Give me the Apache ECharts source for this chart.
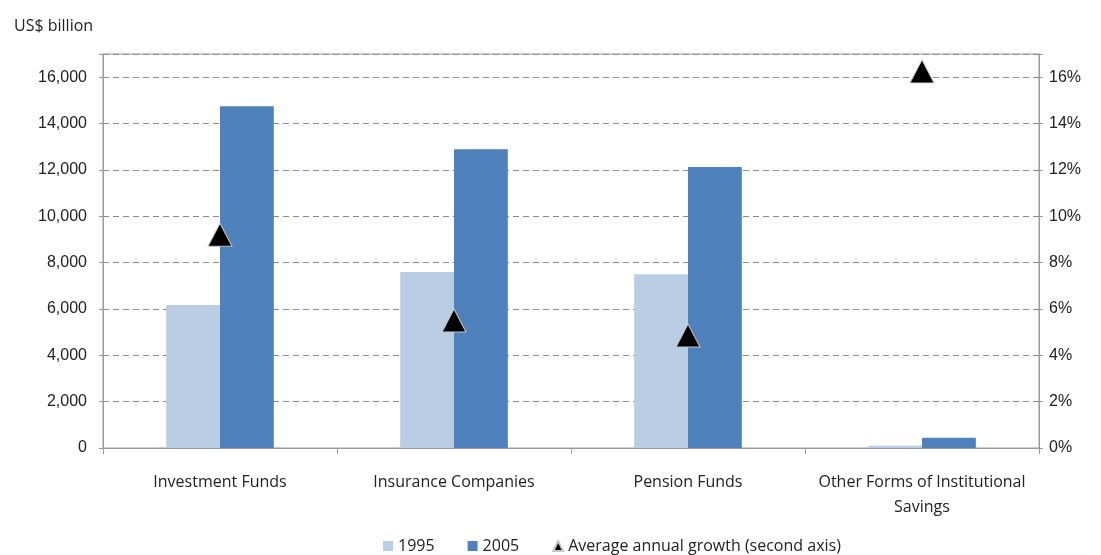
<!DOCTYPE html>
<html>
<head>
<meta charset="utf-8">
<script src="https://cdn.jsdelivr.net/npm/echarts@6/dist/echarts.min.js"></script>
<style>
  html, body { margin: 0; padding: 0; background: #fff; }
  #chart { width: 1101px; height: 555px; }
</style>
</head>
<body>
<div id="chart"></div>
<script>
var categories = ['Investment Funds', 'Insurance Companies', 'Pension Funds', 'Other Forms of Institutional\nSavings'];
var values1995 = [6170, 7590, 7500, 100];
var values2005 = [14750, 12890, 12120, 440];
var growth = [9.2, 5.5, 4.85, 16.25];   // % per year, second axis
var leftTicks = [0, 2000, 4000, 6000, 8000, 10000, 12000, 14000, 16000];

var chart = echarts.init(document.getElementById('chart'));

var option = {
    animation: false,
    textStyle: { fontFamily: 'Open Sans' },
    title: {
        text: 'US$ billion',
        left: 9,
        top: 13,
        textStyle: { fontFamily: 'Open Sans', fontSize: 16, fontWeight: 'normal', color: '#222' }
    },
    grid: {
        left: 103, right: 62, top: 54, bottom: 107,
        show: true, borderColor: '#9a9a9a', borderWidth: 1
    },
    legend: {
        left: 378,
        bottom: -4,
        itemWidth: 10,
        itemHeight: 10,
        itemGap: 33,
        textStyle: { fontFamily: 'Open Sans', fontSize: 16, color: '#222' },
        data: [
            { name: '1995', icon: 'rect' },
            { name: '2005', icon: 'rect' },
            { name: 'Average annual growth (second axis)', icon: 'triangle' }
        ]
    },
    xAxis: {
        type: 'category',
        data: categories,
        axisLine: { lineStyle: { color: '#9a9a9a' } },
        axisTick: { show: true, length: 6, lineStyle: { color: '#9a9a9a' } },
        axisLabel: {
            interval: 0, margin: 22, lineHeight: 25,
            fontFamily: 'Open Sans', fontSize: 16, color: '#222'
        }
    },
    yAxis: [{
        type: 'value',
        min: 0, max: 17000, interval: 2000,
        axisLine: { show: true, lineStyle: { color: '#9a9a9a' } },
        axisTick: { show: true, length: 4, lineStyle: { color: '#9a9a9a' } },
        axisLabel: {
            margin: 16, fontFamily: 'Liberation Sans', fontSize: 16, color: '#222',
            formatter: function (v) {
                return leftTicks.indexOf(v) >= 0 ? v.toLocaleString('en-US') : '';
            }
        },
        splitLine: { show: true, lineStyle: { color: '#8c8c8c', type: [6, 4] } }
    }, {
        type: 'value',
        min: 0, max: 17, interval: 2,
        axisLine: { show: true, lineStyle: { color: '#9a9a9a' } },
        axisTick: { show: true, length: 4, lineStyle: { color: '#9a9a9a' } },
        axisLabel: {
            margin: 10, fontFamily: 'Liberation Sans', fontSize: 16, color: '#222',
            formatter: function (v) { return v % 2 === 0 ? v + '%' : ''; }
        },
        splitLine: { show: false }
    }],
    series: [{
        name: '1995',
        type: 'bar',
        data: values1995,
        barWidth: '23%',
        barGap: '0%',
        itemStyle: { color: '#b9cde5' }
    }, {
        name: '2005',
        type: 'bar',
        data: values2005,
        barWidth: '23%',
        itemStyle: { color: '#4f81bd' }
    }, {
        name: 'Average annual growth (second axis)',
        type: 'scatter',
        yAxisIndex: 1,
        data: growth,
        symbol: 'triangle',
        symbolSize: [24, 23],
        itemStyle: { color: '#000', opacity: 1, borderColor: '#c8c8c8', borderWidth: 1 },
        z: 5
    }]
};

chart.setOption(option);
</script>
</body>
</html>
